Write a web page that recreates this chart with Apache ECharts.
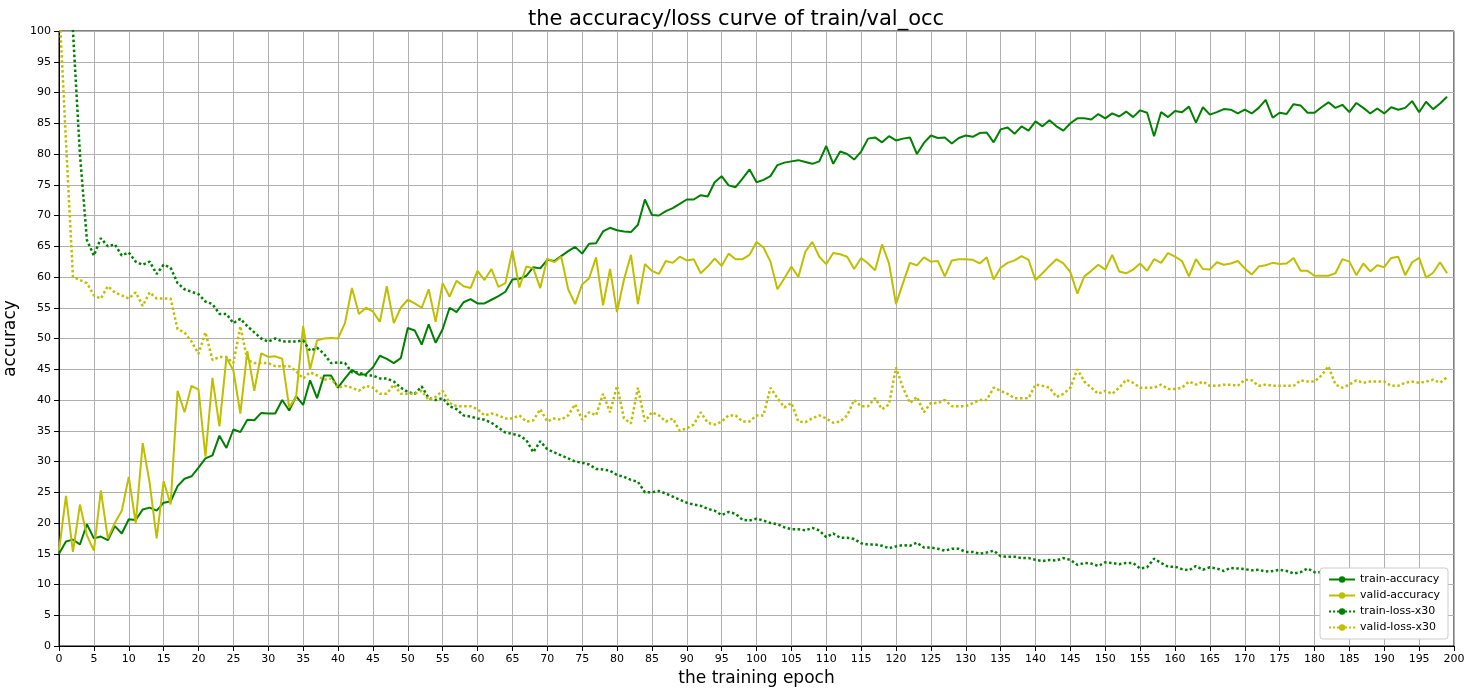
<!DOCTYPE html>
<html lang="en">
<head>
<meta charset="UTF-8">
<title>train/val_occ</title>
<script src="https://cdn.jsdelivr.net/npm/echarts@6/dist/echarts.min.js"></script>
<style>html,body{margin:0;padding:0;background:#fff}</style>
</head>
<body>
<div id="chart" style="width:1472px;height:694px"></div>
<script>
var trainAcc = [15,17,17.3,16.5,19.8,17.5,17.8,17.2,19.5,18.3,
20.6,20.5,22.2,22.5,22,23.3,23.5,26,27.2,27.6,
29,30.5,31,34.2,32.2,35.2,34.8,36.8,36.7,37.9,
37.8,37.8,40,38.3,40.6,39.2,43.2,40.3,44,44,
42,43.5,44.9,44.1,44.2,45.3,47.2,46.7,46,46.8,
51.7,51.3,49,52.3,49.3,51.5,55,54.3,55.9,56.4,
55.7,55.7,56.3,56.9,57.6,59.6,59.7,60.2,61.6,61.4,
62.8,62.6,63.4,64.2,64.9,63.8,65.4,65.5,67.4,68,
67.6,67.4,67.3,68.5,72.6,70.1,70,70.7,71.2,71.9,
72.6,72.6,73.3,73.1,75.4,76.4,74.9,74.6,76,77.5,
75.4,75.8,76.4,78.2,78.6,78.8,79,78.7,78.4,78.8,
81.3,78.4,80.4,80,79.1,80.4,82.5,82.7,81.9,82.9,
82.2,82.5,82.7,80,81.8,83,82.6,82.7,81.7,82.6,
83,82.8,83.4,83.5,81.9,84,84.3,83.3,84.5,83.8,
85.3,84.5,85.5,84.5,83.8,85,85.8,85.8,85.6,86.5,
85.8,86.6,86.1,86.9,86,87.1,86.7,82.9,86.8,86,
87,86.8,87.7,85.1,87.6,86.4,86.8,87.3,87.2,86.6,
87.2,86.6,87.5,88.8,85.9,86.7,86.5,88.1,87.9,86.7,
86.7,87.6,88.4,87.5,88,86.8,88.3,87.5,86.6,87.4,
86.6,87.6,87.2,87.5,88.6,86.8,88.5,87.3,88.2,89.3];

var validAcc = [15.5,24.4,15.3,23,18,15.5,25.3,17.5,20,22,
27.5,20,33,26.5,17.5,26.8,23,41.5,38,42.3,
41.7,30.8,43.6,35.7,46.9,44.8,37.8,48,41.5,47.6,
47,47.1,46.7,38.8,40.5,52,45,49.7,50,50.1,
50,52.5,58.2,54,55,54.4,52.7,58.5,52.5,55,
56.3,55.7,55,58,52.7,59,56.8,59.4,58.5,58.2,
61,59.5,61.3,58.4,59,64.3,58.3,61.7,61.4,58.2,
63,62.4,63.3,58,55.6,58.8,59.8,63.2,55.4,61.3,
54.3,59.6,63.6,55.6,62.1,61,60.5,62.6,62.3,63.3,
62.7,62.9,60.6,61.7,63,61.8,63.8,62.9,62.9,63.6,
65.7,64.8,62.5,58,59.8,61.7,60,64.1,65.7,63.3,
62.1,63.9,63.7,63.3,61.3,63.1,62.2,61.1,65.3,62.2,
55.6,59,62.3,61.9,63.2,62.5,62.6,60.1,62.7,62.9,
62.9,62.8,62.2,63.2,59.6,61.5,62.3,62.7,63.4,62.8,
59.5,60.6,61.8,62.9,62.2,60.8,57.3,60.1,61,62,
61.2,63.6,60.9,60.6,61.2,62.2,61,62.9,62.3,63.9,
63.3,62.6,60.1,62.9,61.3,61.2,62.4,62,62.2,62.6,
61.4,60.4,61.7,61.9,62.3,62.1,62.2,63.1,61,61,
60.2,60.2,60.2,60.6,62.9,62.5,60.3,62.2,60.9,61.9,
61.6,63.1,63.3,60.3,62.4,63.1,59.9,60.7,62.4,60.6];

var trainLoss = [140,120,100,80,66,63.5,66.3,65,65.3,63.5,
64,62.5,62,62.5,60.5,62,61.5,59,58,57.6,
57.2,56,55.6,54,54,52.5,53.2,52,51,50,
49.5,50,49.5,49.5,49.5,49.7,48,48.5,47.5,46,
46.1,46,44.5,44.5,44,44,43.5,43.5,43,42,
41.3,41,42.2,40.3,40,40.3,39,38.5,37.5,37.3,
37,36.8,36.3,35.5,34.7,34.5,34.2,33.5,31.5,33.3,
32,31.5,31,30.5,30,29.8,29.5,28.8,28.7,28.5,
27.8,27.5,27,26.7,25,25,25.2,24.8,24.3,23.8,
23.3,23,22.8,22.3,22,21.3,21.8,21.5,20.5,20.4,
20.7,20.4,20,19.8,19.3,19,19,18.8,19.2,18.8,
17.7,18.3,17.6,17.6,17.4,16.7,16.5,16.5,16.3,15.9,
16.2,16.4,16.3,16.8,16,16,15.8,15.5,15.8,15.8,
15.3,15.3,15,15.2,15.5,14.6,14.5,14.5,14.3,14.3,
14,13.8,14,13.9,14.3,14,13.2,13.5,13.4,13,
13.6,13.5,13.3,13.5,13.5,12.6,12.8,14.2,13.5,12.9,
12.9,12.5,12.3,13,12.4,12.8,12.6,12.2,12.7,12.6,
12.5,12.3,12.4,12.1,12.2,12.4,12.2,11.8,12,12.6,
12,12,12,12.2,11.8,11.7,12,12,12,12.1,
12.3,11.7,12.1,12.1,12.1,11.9,11.8,11.7,11.4,11.3];

var validLoss = [105,82,60,59.5,59,57,56.5,58.5,57.5,57,
56.5,57.5,55.3,57.5,56.5,56.5,56.5,51.5,51,49.5,
47.5,51,46.5,47,47,46,52,46.5,46,46,
46,45.5,45.5,45.5,44.7,43.5,44.5,44,43.3,43.5,
42,42.3,42,41.5,42.3,42,41,41,42.5,41,
41,41,41.5,40,40.5,41.5,39.5,39,39,39,
38.5,37.5,37.8,37.5,37,37,37.5,36.5,36.7,38.5,
36.5,37,36.8,37.5,39.3,36.8,38,37.5,41,38,
42.3,37,36.2,42,36.5,38,37.5,36.5,37,35,
35.4,36,38,36.3,36,36.5,37.5,37.5,36.5,36.5,
37.5,37.5,42,40.3,38.8,39.5,36.5,36.4,37,37.5,
37,36.3,36.5,37.5,40,39,39,40.3,38.5,39.3,
45.3,42,39.5,40.5,38,39.5,39.5,40,39,39,
39,39.5,40,40,42,41.5,41,40.3,40.3,40.3,
42.5,42.3,42,40.5,41,42,45,43,42,41,
41.5,41,42,43.3,42.8,42,42,42,42.5,41.8,
41.8,42,43,42.5,43,42.3,42.3,42.5,42.5,42.3,
43.3,43.2,42.3,42.5,42.3,42.3,42.3,42.3,43.2,43,
43,44,45.5,42.5,42,42.5,43.2,42.8,43,43,
43,42.3,42.3,42.8,43,42.8,43,43.3,42.8,43.7];

var green = '#008000', yellow = '#bfbf00';

function pairs(arr) {
	return arr.map(function (v, i) { return [i, v]; });
}

function line(name, data, color, type) {
	return {
		name: name, type: 'line', data: pairs(data), symbol: 'none', clip: true,
		lineStyle: {color: color, width: type === 'dotted' ? 2.5 : 2, type: type},
		itemStyle: {color: color}
	};
}

var chart = echarts.init(document.getElementById('chart'));
chart.setOption({
	animation: false,
	title: {
		text: 'the accuracy/loss curve of train/val_occ', left: 'center', top: 4,
		textStyle: {fontFamily: 'DejaVu Sans', fontSize: 21, fontWeight: 'normal', color: '#000'}
	},
	grid: {left: 59, right: 18, top: 31, bottom: 48, containLabel: false, outerBoundsMode: 'none',
		show: true, borderColor: '#000', borderWidth: 1},
	legend: {
		orient: 'vertical', right: 24, bottom: 55, itemWidth: 26, itemHeight: 8, itemGap: 5,
		backgroundColor: '#fff', borderColor: '#ccc', borderWidth: 1, borderRadius: 3, padding: [6, 8],
		textStyle: {fontFamily: 'DejaVu Sans', fontSize: 11, color: '#000'},
		data: ['train-accuracy', 'valid-accuracy', 'train-loss-x30', 'valid-loss-x30']
	},
	xAxis: {
		type: 'value', min: 0, max: 200, interval: 5,
		name: 'the training epoch', nameLocation: 'middle', nameGap: 24,
		nameTextStyle: {fontFamily: 'DejaVu Sans', fontSize: 17, color: '#000'},
		axisLine: {lineStyle: {color: '#000'}}, axisTick: {show: true, lineStyle: {color: '#000'}},
		axisLabel: {fontFamily: 'DejaVu Sans', fontSize: 11, color: '#000'},
		splitLine: {lineStyle: {color: '#b0b0b0'}}
	},
	yAxis: {
		type: 'value', min: 0, max: 100, interval: 5,
		name: 'accuracy', nameLocation: 'middle', nameGap: 34,
		nameTextStyle: {fontFamily: 'DejaVu Sans', fontSize: 17, color: '#000'},
		axisLine: {show: true, lineStyle: {color: '#000'}}, axisTick: {show: true, lineStyle: {color: '#000'}},
		axisLabel: {fontFamily: 'DejaVu Sans', fontSize: 11, color: '#000'},
		splitLine: {lineStyle: {color: '#b0b0b0'}}
	},
	series: [
		line('train-accuracy', trainAcc, green, 'solid'),
		line('valid-accuracy', validAcc, yellow, 'solid'),
		line('train-loss-x30', trainLoss, green, 'dotted'),
		line('valid-loss-x30', validLoss, yellow, 'dotted')
	]
});
</script>
</body>
</html>
